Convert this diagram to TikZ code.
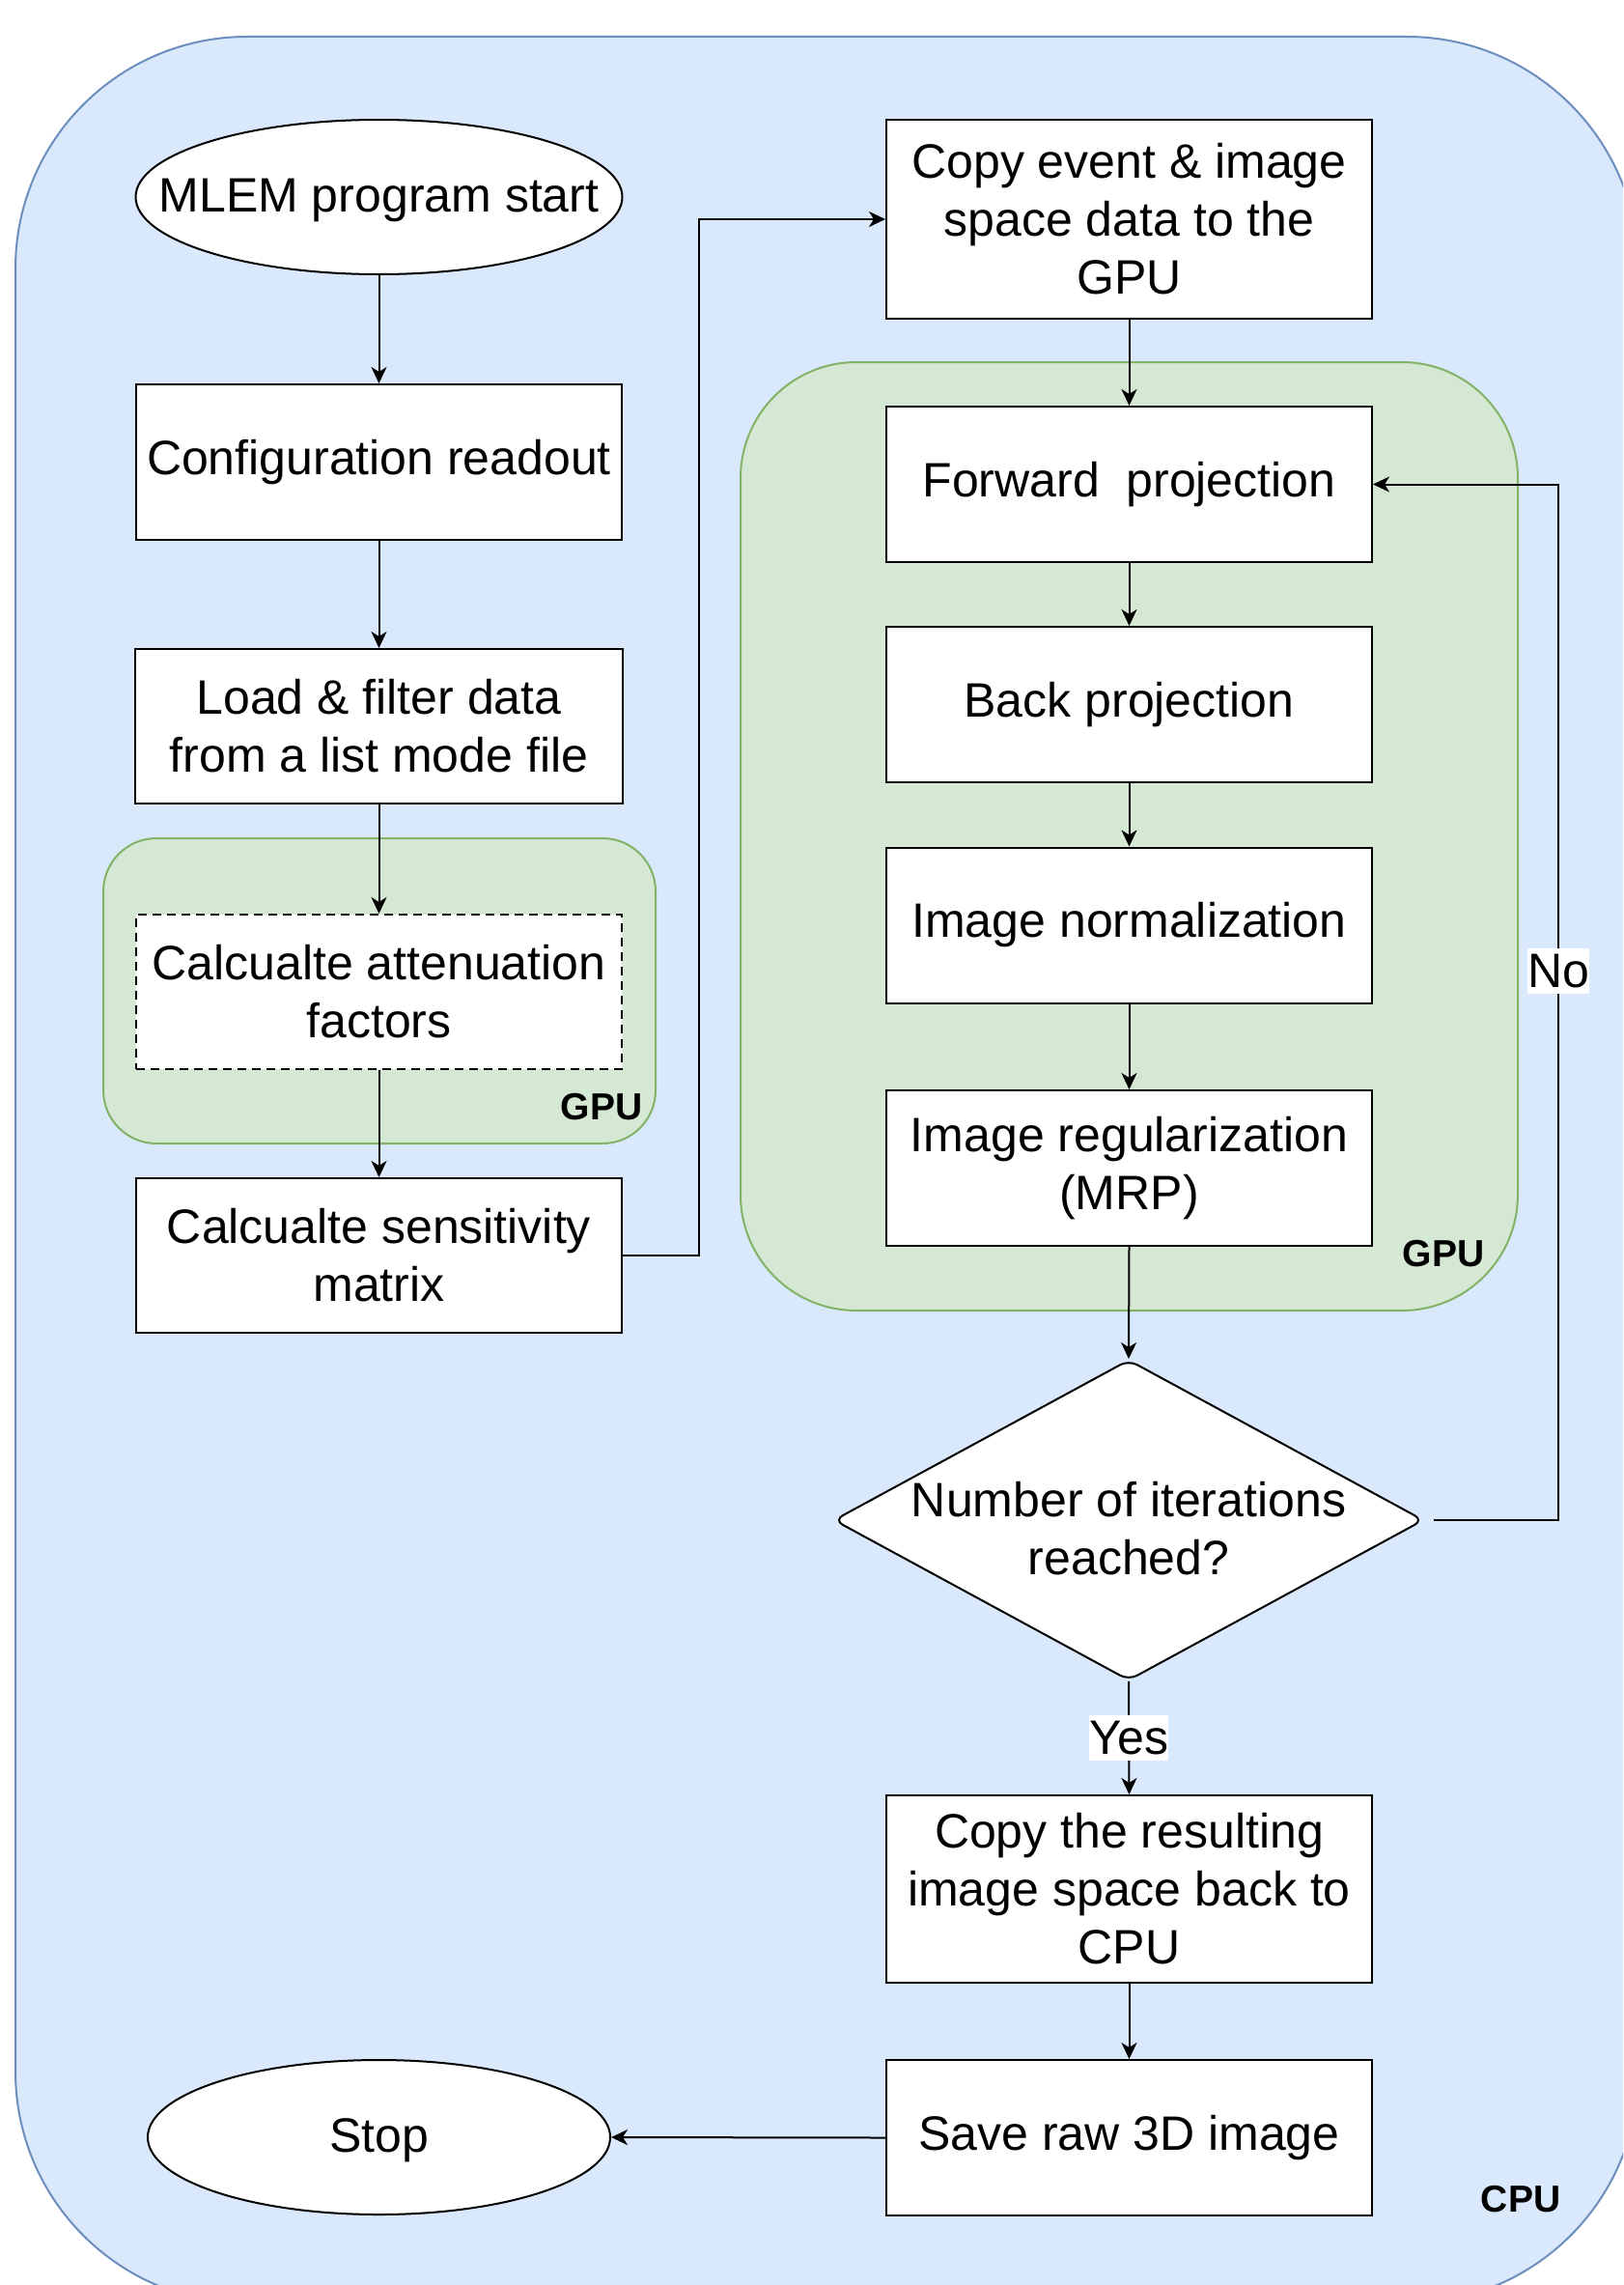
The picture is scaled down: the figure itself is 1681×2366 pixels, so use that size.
\documentclass[tikz,border=0pt]{standalone}
\usepackage{fontspec}
\setmainfont{Liberation Sans}
\usetikzlibrary{arrows.meta,shapes.geometric}
\definecolor{cpufill}{HTML}{DAE8FC}
\definecolor{cpudraw}{HTML}{6C8EBF}
\definecolor{gpufill}{HTML}{D5E8D4}
\definecolor{gpudraw}{HTML}{82B366}
\begin{document}
\begin{tikzpicture}[x=1pt,y=-1pt,
  every node/.style={font=\fontsize{50}{60}\selectfont, text=black},
  proc/.style={draw=black, fill=white, line width=2pt, minimum width=503pt, minimum height=161pt, align=center, inner sep=0pt},
  dashproc/.style={proc, dash pattern=on 9pt off 6pt},
  term/.style={draw=black, fill=white, line width=2pt, ellipse, inner sep=0pt},
  decision/.style={draw=black, fill=white, line width=2pt, diamond, inner sep=0pt, rounded corners=10pt, minimum width=611pt, minimum height=332pt},
  flow/.style={line width=2pt, -{Stealth[length=17pt,width=16pt,inset=5pt]}},
  tag/.style={font=\fontsize{39}{47}\selectfont\bfseries, inner sep=0pt},
  edgelabel/.style={fill=white, inner xsep=0pt, inner ysep=6pt},
  cpuzone/.style={fill=cpufill, draw=cpudraw, line width=2pt, rounded corners=240pt},
  gpuzone/.style={fill=gpufill, draw=gpudraw, line width=2pt}
]
\useasboundingbox (0,0) rectangle (1681,2366);
\clip (0,0) rectangle (1681,2366);
\fill[white] (0,0) rectangle (1681,2366);

% zones
\draw[cpuzone] (16,38) rectangle (1697,2385);
\draw[gpuzone, rounded corners=55pt] (107,868) rectangle (679,1184);
\draw[gpuzone, rounded corners=120pt] (767,375) rectangle (1572,1357);

% left column
\node[term, minimum width=504pt, minimum height=160pt, label={[yshift=-3pt]center:MLEM program start}] (start) at (392.5,204) {};
\node[proc] (cfg) at (392.5,478.5) {Configuration readout};
\node[proc, minimum width=505pt, minimum height=160pt] (load) at (392.5,752) {Load \& filter data\\from a list mode file};
\node[dashproc, minimum height=160pt] (att) at (392.5,1027) {Calcualte attenuation\\factors};
\node[proc, minimum height=160pt] (sens) at (392.5,1300) {Calcualte sensitivity\\matrix};
\node[term, minimum width=479pt, minimum height=160pt, label={[yshift=-3pt]center:Stop}] (stop) at (392.5,2213) {};

% right column
\node[proc, minimum height=206pt] (copy) at (1169.5,227) {Copy event \& image\\space data to the\\GPU};
\node[proc] (fwd) at (1169.5,501.5) {Forward\ \ projection};
\node[proc] (back) at (1169.5,729.5) {Back projection};
\node[proc] (norm) at (1169.5,958) {Image normalization};
\node[proc] (reg) at (1169.5,1209.5) {Image regularization\\(MRP)};
\node[decision, label={[yshift=-9pt]center:\parbox{500pt}{\centering\fontsize{50}{60}\selectfont Number of iterations\\reached?}}] (dec) at (1169,1574) {};
\node[proc, minimum height=194pt] (res) at (1169.5,1956) {Copy the resulting\\image space back to\\CPU};
\node[proc] (save) at (1169.5,2213.5) {Save raw 3D image};

% zone tags
\node[tag] (gpuL) at (623,1146) {GPU};
\node[tag] (gpuR) at (1495,1298) {GPU};
\node[tag] (cpuT) at (1575,2277) {CPU};

% connectors
\coordinate (jx) at (724,0);
\coordinate (fbx) at (1614,0);
\draw[flow] (start.south) -- (cfg.north);
\draw[flow] (cfg.south) -- (load.north);
\draw[flow] (load.south) -- (att.north);
\draw[flow] (att.south) -- (sens.north);
\draw[flow] (sens.east) -- (sens.east -| jx) -- (copy.west -| jx) -- (copy.west);
\draw[flow] (copy.south) -- (fwd.north);
\draw[flow] (fwd.south) -- (back.north);
\draw[flow] (back.south) -- (norm.north);
\draw[flow] (norm.south) -- (reg.north);
\draw[flow] (reg.south) -- (dec.north);
\draw[flow] (dec.south) -- node[edgelabel] {Yes} (res.north);
\draw[flow, shorten <=9pt] (dec.east) -- (dec.east -| fbx) -- node[edgelabel, pos=0.53] {No} (fwd.east -| fbx) -- (fwd.east);
\draw[flow] (res.south) -- (save.north);
\draw[flow] (save.west) -- (stop.east);
\end{tikzpicture}
\end{document}
